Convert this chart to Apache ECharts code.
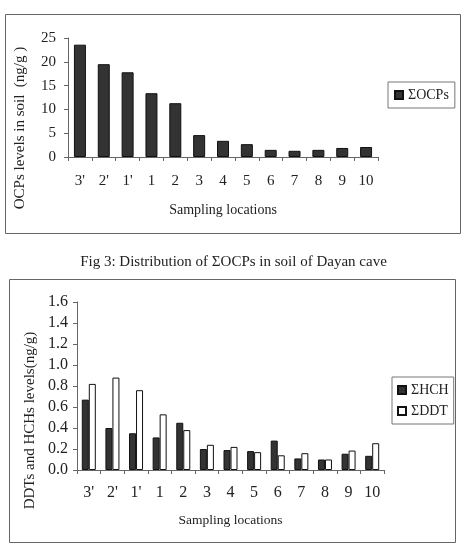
<!DOCTYPE html>
<html>
<head>
<meta charset="utf-8">
<script src="https://cdn.jsdelivr.net/npm/echarts@6/dist/echarts.min.js"></script>
<style>
  html, body { margin: 0; padding: 0; background: #fff; }
  #chart { width: 467px; height: 545px; }
</style>
</head>
<body>
<div id="chart"></div>
<script>
  // sampling locations
  const locations = ["3'", "2'", "1'", '1', '2', '3', '4', '5', '6', '7', '8', '9', '10']
  // sum of OCPs (ng/g)
  const ocpValues = [23.6, 19.5, 17.8, 13.4, 11.3, 4.6, 3.4, 2.7, 1.5, 1.3, 1.5, 1.9, 2.1]
  // sum of HCH and DDT (ng/g)
  const hchValues = [0.67, 0.40, 0.35, 0.31, 0.45, 0.20, 0.19, 0.18, 0.28, 0.11, 0.10, 0.155, 0.135]
  const ddtValues = [0.82, 0.88, 0.76, 0.53, 0.38, 0.24, 0.22, 0.17, 0.14, 0.16, 0.10, 0.185, 0.255]

  const font = '"Liberation Serif", "DejaVu Serif", serif'
  const textColor = '#222'
  const axisColor = '#666'

  function catAxis(gridIndex, labelSize, labelMargin, nameSize, nameGap) {
    return {
      type: 'category',
      gridIndex: gridIndex,
      data: locations,
      name: 'Sampling locations',
      nameLocation: 'middle',
      nameGap: nameGap,
      nameTextStyle: { fontFamily: font, fontSize: nameSize, color: textColor },
      axisLine: { lineStyle: { color: axisColor } },
      axisTick: { show: true, length: 4, alignWithLabel: false, lineStyle: { color: axisColor } },
      axisLabel: { interval: 0, margin: labelMargin, fontFamily: font, fontSize: labelSize, color: textColor }
    }
  }

  let myChart = echarts.init(document.getElementById('chart'))
  myChart.setOption({
    backgroundColor: '#fff',
    animation: false,
    title: {
      text: 'Fig 3: Distribution of ΣOCPs in soil of Dayan cave',
      left: 'center',
      top: 250,
      textStyle: { fontFamily: font, fontSize: 15, fontWeight: 'normal', color: textColor }
    },
    graphic: [
      { type: 'rect', shape: { x: 5.5, y: 14.5, width: 455, height: 219 }, style: { fill: 'none', stroke: '#666', lineWidth: 1 } },
      { type: 'rect', shape: { x: 9.5, y: 279.5, width: 446, height: 263 }, style: { fill: 'none', stroke: '#666', lineWidth: 1 } }
    ],
    grid: [
      { left: 68, top: 38, right: 89, bottom: 388 },
      { left: 77, top: 302, right: 83, bottom: 75 }
    ],
    legend: [
      {
        data: ['ΣOCPs'],
        left: 388, top: 82,
        padding: [6, 6],
        borderColor: '#777', borderWidth: 1,
        icon: 'rect', itemWidth: 8, itemHeight: 8, itemGap: 5,
        textStyle: { fontFamily: font, fontSize: 14, color: textColor }
      },
      {
        data: ['ΣHCH', 'ΣDDT'],
        orient: 'vertical',
        left: 392, top: 377,
        padding: [6, 5],
        borderColor: '#777', borderWidth: 1,
        icon: 'rect', itemWidth: 8, itemHeight: 8, itemGap: 7,
        textStyle: { fontFamily: font, fontSize: 14, color: textColor }
      }
    ],
    xAxis: [catAxis(0, 15, 17, 14, 46), catAxis(1, 16, 15, 13.5, 43)],
    yAxis: [
      {
        type: 'value', gridIndex: 0, min: 0, max: 25, interval: 5,
        name: 'OCPs levels in soil  (ng/g )',
        nameLocation: 'middle', nameGap: 40,
        // pushed toward the bottom like the original
        nameTextStyle: { fontFamily: font, fontSize: 15, color: textColor, padding: [0, 61, 0, 0] },
        axisLine: { show: true, lineStyle: { color: axisColor } },
        axisTick: { show: true, length: 4, lineStyle: { color: axisColor } },
        axisLabel: { margin: 12, fontFamily: font, fontSize: 15, color: textColor },
        splitLine: { show: false }
      },
      {
        type: 'value', gridIndex: 1, min: 0, max: 1.6, interval: 0.2,
        name: 'DDTs and HCHs levels(ng/g)',
        nameLocation: 'middle', nameGap: 38,
        nameTextStyle: { fontFamily: font, fontSize: 15, color: textColor, padding: [0, 69, 0, 0] },
        axisLine: { show: true, lineStyle: { color: axisColor } },
        axisTick: { show: true, length: 4, lineStyle: { color: axisColor } },
        axisLabel: { margin: 9, fontFamily: font, fontSize: 16, color: textColor, formatter: v => v.toFixed(1) },
        splitLine: { show: false }
      }
    ],
    series: [
      {
        name: 'ΣOCPs', type: 'bar', xAxisIndex: 0, yAxisIndex: 0,
        barWidth: 12,
        itemStyle: { color: '#333', borderColor: '#111', borderWidth: 1 },
        data: ocpValues
      },
      {
        name: 'ΣHCH', type: 'bar', xAxisIndex: 1, yAxisIndex: 1,
        barWidth: 7, barGap: '0%',
        itemStyle: { color: '#333', borderColor: '#111', borderWidth: 1 },
        data: hchValues
      },
      {
        name: 'ΣDDT', type: 'bar', xAxisIndex: 1, yAxisIndex: 1,
        barWidth: 7, barGap: '0%',
        itemStyle: { color: '#fff', borderColor: '#111', borderWidth: 1 },
        data: ddtValues
      }
    ]
  })
</script>
</body>
</html>
